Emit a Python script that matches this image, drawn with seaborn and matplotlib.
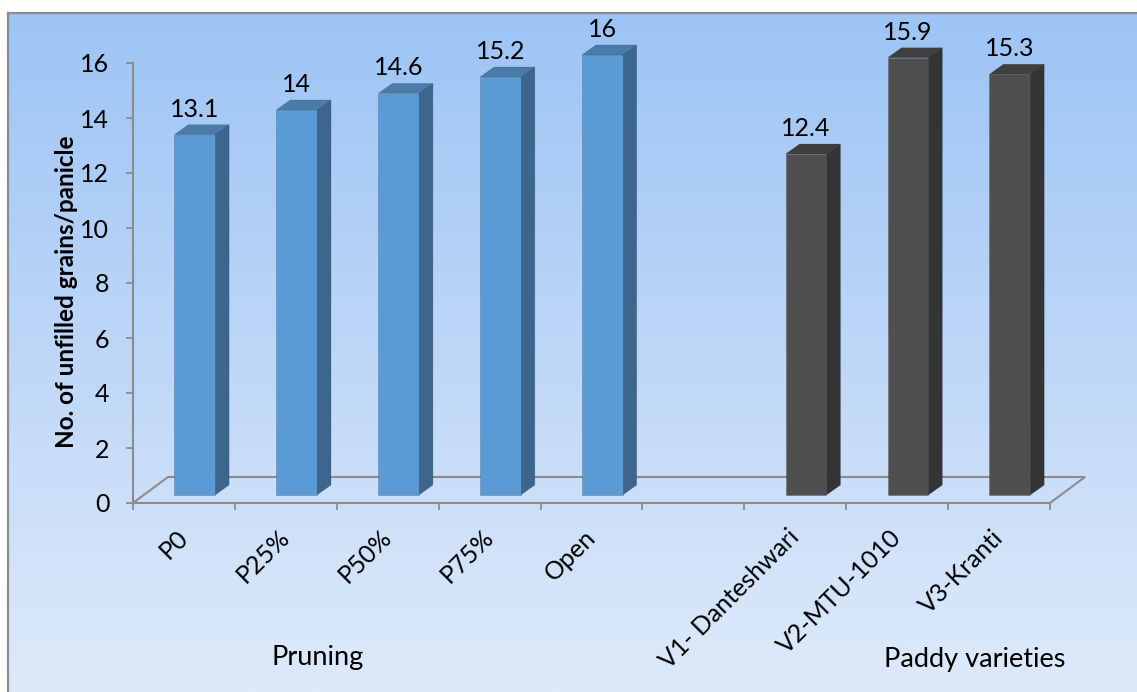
import numpy as np
import pandas as pd
import matplotlib
matplotlib.use("Agg")
import matplotlib.pyplot as plt
import seaborn as sns
from matplotlib.patches import Polygon
from matplotlib.lines import Line2D

# ---- data -------------------------------------------------------------
categories = ["P0", "P25%", "P50%", "P75%", "Open",
              "V1- Danteshwari", "V2-MTU-1010", "V3-Kranti"]
values = [13.1, 14, 14.6, 15.2, 16, 12.4, 15.9, 15.3]
groups = ["Pruning"] * 5 + ["Paddy varieties"] * 3
# an empty slot separates the two factor groups on the category axis
slot_order = ["P0", "P25%", "P50%", "P75%", "Open", "",
              "V1- Danteshwari", "V2-MTU-1010", "V3-Kranti"]
y_ticks = [0, 2, 4, 6, 8, 10, 12, 14, 16]
y_label = "No. of unfilled grains/panicle"
group_colors = {"Pruning": "#5B9BD5", "Paddy varieties": "#4F4F4F"}

df = pd.DataFrame({"category": categories, "value": values, "group": groups})

# ---- figure setup -------------------------------------------------------
plt.rcParams["font.family"] = ["Lato", "DejaVu Sans"]
W, H = 1137, 692
fig = plt.figure(figsize=(W / 100, H / 100), dpi=100)
fig.patch.set_facecolor("white")
AXIS_GREY = "#8C8C8C"
FS = 18


def box(left, top, right, bottom):
    """Pixel box (from the top-left corner) -> figure fraction rect."""
    return [left / W, 1 - bottom / H, (right - left) / W, (bottom - top) / H]


# gradient chart area
bg = fig.add_axes(box(8, 13, W, H), zorder=0)
t = np.linspace(0, 1, 256)[:, None, None]
c_top = np.array([157, 196, 245]) / 255
c_bot = np.array([222, 234, 250]) / 255
bg.imshow(c_top * (1 - t) + c_bot * t, aspect="auto", extent=[0, 1, 0, 1])
bg.set_axis_off()
fig.add_artist(Line2D([8 / W, 8 / W], [0, 1 - 13 / H], color=AXIS_GREY, lw=1.6))
fig.add_artist(Line2D([8 / W, 1], [1 - 13 / H, 1 - 13 / H], color=AXIS_GREY, lw=1.6))

# front plane: axes, ticks and floor outline
ax_f = fig.add_axes(box(133, 63, 1050, 503), zorder=1)
ax_f.set_facecolor("none")
ax_f.set_xlim(-0.5, 8.5)
ax_f.set_ylim(0, 16)
for s in ("top", "right"):
    ax_f.spines[s].set_visible(False)
for s in ("left", "bottom"):
    ax_f.spines[s].set_color(AXIS_GREY)
    ax_f.spines[s].set_linewidth(1.5)

ax_f.set_yticks(y_ticks)
ax_f.tick_params(axis="y", length=5, width=1.3, color=AXIS_GREY,
                 labelsize=FS, pad=12, labelcolor="black")
ax_f.set_xticks(range(len(slot_order)))
ax_f.set_xticklabels(slot_order)
ax_f.set_xticks(np.arange(-0.5, len(slot_order), 1.0), minor=True)
ax_f.tick_params(axis="x", which="major", length=0, pad=22, labelsize=FS,
                 labelcolor="black")
ax_f.tick_params(axis="x", which="minor", length=5, width=1.3, color=AXIS_GREY)
for lab in ax_f.get_xticklabels():
    lab.set_rotation(45)
    lab.set_ha("right")
    lab.set_va("center")
    lab.set_rotation_mode("anchor")

# floor outline receding to the back
fdx, fdy = 35 / 101.9, 26 / 27.5
ax_f.plot([-0.5, -0.5 + fdx, 8.5 + fdx, 8.5], [0, fdy, fdy, 0],
          color=AXIS_GREY, lw=1.5, clip_on=False, solid_joinstyle="miter")

# bar plane, set slightly behind the front plane
ax_b = fig.add_axes(box(143.8, 55, 1060.8, 495), zorder=2)
sns.barplot(data=df, x="category", y="value", hue="group", order=slot_order,
            palette=group_colors, dodge=False, width=0.4, saturation=1,
            errorbar=None, legend=False, ax=ax_b, linewidth=0.6,
            edgecolor="#00000030")
ax_b.set_xlim(-0.5, 8.5)
ax_b.set_ylim(0, 16)
ax_b.set_facecolor("none")
ax_b.set_axis_off()

# extrude each bar: darker side and top faces
ddx, ddy = 14 / 101.9, 10 / 27.5
for p in list(ax_b.patches):
    h = p.get_height()
    if not np.isfinite(h) or h == 0:
        continue
    p.set_clip_on(False)
    x0, w = p.get_x(), p.get_width()
    x1 = x0 + w
    r, g, b, _ = p.get_facecolor()
    side = (r * 0.66, g * 0.66, b * 0.66)
    top = (r * 0.8, g * 0.8, b * 0.8)
    ax_b.add_patch(Polygon([(x1, 0), (x1 + ddx, ddy), (x1 + ddx, h + ddy), (x1, h)],
                           closed=True, facecolor=side, edgecolor="#00000025",
                           lw=0.6, zorder=p.get_zorder() - 0.1, clip_on=False))
    ax_b.add_patch(Polygon([(x0, h), (x1, h), (x1 + ddx, h + ddy), (x0 + ddx, h + ddy)],
                           closed=True, facecolor=top, edgecolor="#00000025",
                           lw=0.6, zorder=p.get_zorder() - 0.1, clip_on=False))
    ax_b.annotate(f"{h:g}", xy=(x0 + w / 2, h), xytext=(0, 13),
                  textcoords="offset points", ha="center", va="baseline",
                  fontsize=FS, color="black", annotation_clip=False)

# titles
fig.text(67 / W, 1 - 292 / H, y_label, rotation=90, ha="center", va="center",
         fontsize=17.5, fontweight="bold", color="black")
fig.text(318 / W, 1 - 657 / H, "Pruning", ha="center", va="center",
         fontsize=19.5, color="black")
fig.text(975 / W, 1 - 659 / H, "Paddy varieties", ha="center", va="center",
         fontsize=19.5, color="black")

fig.savefig("out.png", dpi=100)
